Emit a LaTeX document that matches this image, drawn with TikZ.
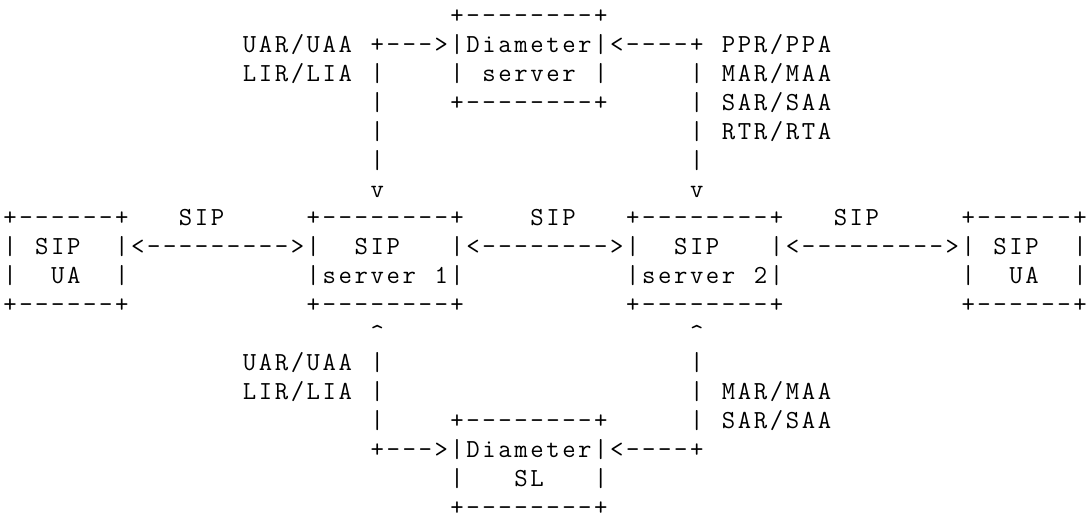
\documentclass[tikz,border=0pt]{standalone}
\newcount\segcol
% place a run of characters on the character grid; '.' stands for a blank cell
\def\seg#1#2#3{\def\segrow{#1}\global\segcol=#2\relax
  \pgfmathsetmacro\segy{496.3-28.9*#1}\segparse#3\relax}
\def\segparse#1{\ifx#1\relax\else\segchar#1\global\advance\segcol by 1\relax\expandafter\segparse\fi}
\def\segchar#1{\ifx#1.\else
  \edef\segname{n\segrow-\the\segcol}\pgfmathsetmacro\segx{10+15.97*\the\segcol}%
  \node[ch] (\segname) at (\segx,\segy) {\makebox[0pt]{\ifx#1^\textasciicircum\else#1\fi}};\fi}
\tikzset{ch/.style={anchor=base, inner sep=0pt, outer sep=0pt,
  font=\fontsize{26}{30}\selectfont\ttfamily}}
\begin{document}
\begin{tikzpicture}[x=1pt,y=1pt]
\path[fill=white,use as bounding box] (0,0) rectangle (1086,520);
% Diameter server
\seg{0}{28}{+--------+}
\seg{1}{15}{UAR/UAA} \seg{1}{23}{+--->|Diameter|<----+} \seg{1}{45}{PPR/PPA}
\seg{2}{15}{LIR/LIA} \seg{2}{23}{|} \seg{2}{28}{|.server.|} \seg{2}{43}{|} \seg{2}{45}{MAR/MAA}
\seg{3}{23}{|} \seg{3}{28}{+--------+} \seg{3}{43}{|} \seg{3}{45}{SAR/SAA}
\seg{4}{23}{|} \seg{4}{43}{|} \seg{4}{45}{RTR/RTA}
\seg{5}{23}{|} \seg{5}{43}{|}
\seg{6}{23}{v} \seg{6}{43}{v}
% SIP row
\seg{7}{0}{+------+} \seg{7}{11}{SIP} \seg{7}{19}{+--------+} \seg{7}{33}{SIP}
\seg{7}{39}{+--------+} \seg{7}{52}{SIP} \seg{7}{60}{+------+}
\seg{8}{0}{|.SIP..|} \seg{8}{8}{<--------->} \seg{8}{19}{|..SIP...|} \seg{8}{29}{<-------->}
\seg{8}{39}{|..SIP...|} \seg{8}{49}{<--------->} \seg{8}{60}{|.SIP..|}
\seg{9}{0}{|..UA..|} \seg{9}{19}{|server.1|} \seg{9}{39}{|server.2|} \seg{9}{60}{|..UA..|}
\seg{10}{0}{+------+} \seg{10}{19}{+--------+} \seg{10}{39}{+--------+} \seg{10}{60}{+------+}
% Diameter SL
\seg{11}{23}{^} \seg{11}{43}{^}
\seg{12}{15}{UAR/UAA} \seg{12}{23}{|} \seg{12}{43}{|}
\seg{13}{15}{LIR/LIA} \seg{13}{23}{|} \seg{13}{43}{|} \seg{13}{45}{MAR/MAA}
\seg{14}{23}{|} \seg{14}{28}{+--------+} \seg{14}{43}{|} \seg{14}{45}{SAR/SAA}
\seg{15}{23}{+--->|Diameter|<----+}
\seg{16}{28}{|...SL...|}
\seg{17}{28}{+--------+}
\end{tikzpicture}
\end{document}
